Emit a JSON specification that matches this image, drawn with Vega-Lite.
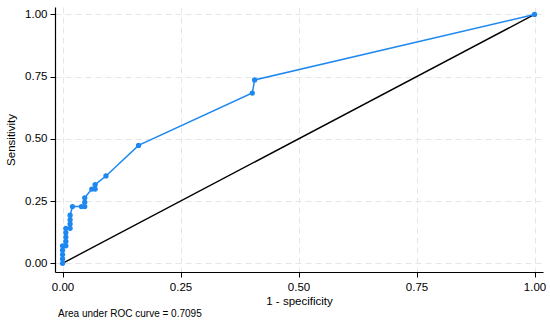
{
  "$schema": "https://vega.github.io/schema/vega-lite/v6.json",
  "width": 488,
  "height": 265,
  "autosize": "none",
  "padding": {"left": 55, "top": 7, "right": 7, "bottom": 50},
  "background": "white",
  "config": {
    "font": "Liberation Sans",
    "view": {"stroke": null},
    "axis": {
      "domainColor": "black",
      "domainWidth": 1.2,
      "tickColor": "black",
      "tickSize": 5,
      "labelColor": "black",
      "titleColor": "black",
      "labelFontSize": 11.5,
      "titleFontSize": 11.5,
      "titleFontWeight": "normal",
      "gridColor": "#e6e6e6",
      "gridDash": [6, 4],
      "gridWidth": 1
    }
  },
  "title": {
    "text": "Area under ROC curve = 0.7095",
    "orient": "bottom",
    "anchor": "start",
    "frame": "group",
    "fontSize": 10,
    "fontWeight": "normal",
    "color": "black",
    "offset": 2,
    "dx": 3
  },
  "datasets": {
    "roc": [
      {"i": 1, "fpr": 0, "tpr": 0},
      {"i": 2, "fpr": 0, "tpr": 0.0175},
      {"i": 3, "fpr": 0, "tpr": 0.0351},
      {"i": 4, "fpr": 0, "tpr": 0.0526},
      {"i": 5, "fpr": 0, "tpr": 0.0702},
      {"i": 6, "fpr": 0.007, "tpr": 0.0702},
      {"i": 7, "fpr": 0.007, "tpr": 0.0877},
      {"i": 8, "fpr": 0.007, "tpr": 0.1053},
      {"i": 9, "fpr": 0.007, "tpr": 0.1228},
      {"i": 10, "fpr": 0.007, "tpr": 0.1404},
      {"i": 11, "fpr": 0.016, "tpr": 0.1404},
      {"i": 12, "fpr": 0.016, "tpr": 0.1579},
      {"i": 13, "fpr": 0.016, "tpr": 0.1754},
      {"i": 14, "fpr": 0.016, "tpr": 0.193},
      {"i": 15, "fpr": 0.021, "tpr": 0.2281},
      {"i": 16, "fpr": 0.04, "tpr": 0.2281},
      {"i": 17, "fpr": 0.047, "tpr": 0.2281},
      {"i": 18, "fpr": 0.047, "tpr": 0.2456},
      {"i": 19, "fpr": 0.047, "tpr": 0.2632},
      {"i": 20, "fpr": 0.062, "tpr": 0.2982},
      {"i": 21, "fpr": 0.069, "tpr": 0.2982},
      {"i": 22, "fpr": 0.069, "tpr": 0.3158},
      {"i": 23, "fpr": 0.092, "tpr": 0.3509},
      {"i": 24, "fpr": 0.161, "tpr": 0.4737},
      {"i": 25, "fpr": 0.402, "tpr": 0.6842},
      {"i": 26, "fpr": 0.407, "tpr": 0.7368},
      {"i": 27, "fpr": 1, "tpr": 1}
    ],
    "ref": [
      {"fpr": 0, "tpr": 0},
      {"fpr": 1, "tpr": 1}
    ]
  },
  "encoding": {
    "x": {
      "field": "fpr", "type": "quantitative",
      "scale": {"domain": [-0.016, 1.018], "nice": false, "zero": false},
      "axis": {"values": [0, 0.25, 0.5, 0.75, 1], "format": ".2f", "title": "1 - specificity", "titlePadding": 3, "labelPadding": 4}
    },
    "y": {
      "field": "tpr", "type": "quantitative",
      "scale": {"domain": [-0.035, 1.03], "nice": false, "zero": false},
      "axis": {"values": [0, 0.25, 0.5, 0.75, 1], "format": ".2f", "title": "Sensitivity", "titlePadding": 8, "labelPadding": 3}
    }
  },
  "layer": [
    {
      "data": {"name": "ref"},
      "mark": {"type": "line", "color": "black", "strokeWidth": 1.4}
    },
    {
      "data": {"name": "roc"},
      "mark": {"type": "line", "color": "#1e88f0", "strokeWidth": 1.5},
      "encoding": {"order": {"field": "i", "type": "quantitative"}}
    },
    {
      "data": {"name": "roc"},
      "mark": {"type": "point", "filled": true, "color": "#1e88f0", "size": 28, "opacity": 1}
    }
  ]
}
